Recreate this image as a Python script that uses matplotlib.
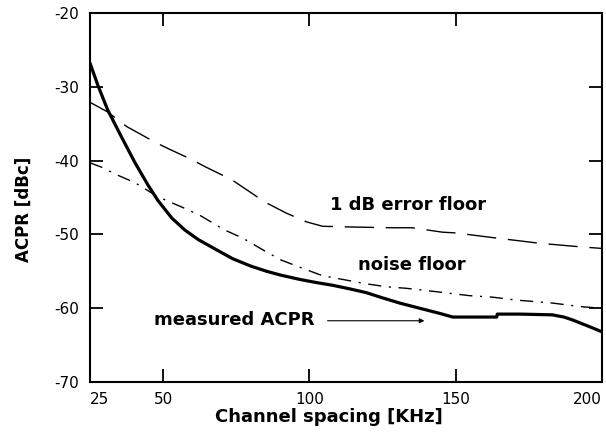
import matplotlib
matplotlib.use("Agg")
import matplotlib.pyplot as plt

# ---- data ----
meas_x = [25, 27.7, 31, 35.9, 40.4, 44.8, 48.2, 53, 57.4, 62, 68.3, 73.8, 80, 85.4, 90,
          96.7, 102, 108, 114, 119.5, 125, 130.8, 137.6, 144.5, 149, 156, 164, 164.2,
          172, 183, 187, 190, 195.7, 200]
meas_y = [-26.8, -29.8, -33.1, -36.9, -40.3, -43.3, -45.4, -47.8, -49.4, -50.7, -52.1,
          -53.3, -54.3, -55.0, -55.5, -56.1, -56.5, -56.9, -57.4, -57.9, -58.6, -59.3,
          -60.0, -60.7, -61.2, -61.2, -61.2, -60.8, -60.8, -60.9, -61.2, -61.6, -62.5, -63.2]

err_x = [25, 31, 37.6, 47.2, 51.3, 60, 64.2, 73.5, 84.7, 92, 99, 104.5, 114.7, 128.4,
         135, 145.5, 150, 164, 178.6, 193, 200]
err_y = [-32.1, -33.4, -35.4, -37.5, -38.3, -39.9, -40.8, -42.6, -45.6, -47.1, -48.3,
         -48.9, -49.0, -49.1, -49.1, -49.7, -49.8, -50.5, -51.2, -51.7, -51.9]

noise_x = [25, 29, 34.6, 40.4, 48.2, 56.4, 62.5, 71, 77.2, 85.4, 90.5, 97.7, 104.5,
           112.7, 119.5, 126.4, 133, 142, 154.7, 162.5, 170.7, 183, 193, 200]
noise_y = [-40.3, -40.9, -42.0, -43.0, -44.9, -46.3, -47.4, -49.4, -50.5, -52.4, -53.5,
           -54.6, -55.6, -56.2, -56.7, -57.1, -57.3, -57.7, -58.3, -58.5, -58.9, -59.3,
           -59.8, -60.0]

x_ticks = [25, 50, 100, 150, 200]
x_tick_labels = ["25", "50", "100", "150", "200"]
y_ticks = [-20, -30, -40, -50, -60, -70]
y_tick_labels = ["-20", "-30", "-40", "-50", "-60", "-70"]

fig = plt.figure(figsize=(6.06, 4.36), dpi=100)
ax = fig.add_axes([90 / 606, 1 - 382 / 436, 512 / 606, 369 / 436])

ax.plot(meas_x, meas_y, color="black", lw=2.3, solid_joinstyle="round")
ax.plot(err_x, err_y, color="black", lw=1.0, dashes=(21, 8.5))
ax.plot(noise_x, noise_y, color="black", lw=1.0, dashes=(9.5, 5.5, 1.5, 5.5))

ax.set_xlim(25, 200)
ax.set_ylim(-70, -20)

ax.set_xticks(x_ticks)
ax.set_xticklabels(x_tick_labels, fontsize=11, family="DejaVu Sans")
ax.set_yticks(y_ticks)
ax.set_yticklabels(y_tick_labels, fontsize=11, family="DejaVu Sans")
labs = ax.get_xticklabels()
labs[0].set_ha("left")
labs[-1].set_ha("right")

ax.tick_params(axis="both", direction="in", length=9.5, width=1.3,
               top=True, right=True, labeltop=False, labelright=False)
ax.tick_params(axis="x", pad=7)
ax.tick_params(axis="y", pad=8)
for s in ax.spines.values():
    s.set_linewidth(1.5)

lab_font = dict(family="DejaVu Sans", weight="bold", fontsize=13)
ax.set_xlabel("Channel spacing [KHz]", va="center", **lab_font)
ax.xaxis.set_label_coords((329 - 90) / 512, (382 - 417) / 369)
ax.set_ylabel("ACPR [dBc]", va="center", family="DejaVu Sans", weight="bold", fontsize=12)
ax.yaxis.set_label_coords((23.5 - 90) / 512, (382 - 209) / 369)

ax.text(133.7, -46.0, "1 dB error floor", ha="center", va="center", **lab_font)
ax.text(135.0, -54.1, "noise floor", ha="center", va="center", **lab_font)
ax.text(74.2, -61.6, "measured ACPR", ha="center", va="center", **lab_font)
ax.annotate("", xy=(139.3, -61.7), xytext=(106.2, -61.7),
            arrowprops=dict(arrowstyle="-|>", color="black", lw=0.8,
                            mutation_scale=7, shrinkA=0, shrinkB=0))

fig.savefig("out.png", dpi=100)
